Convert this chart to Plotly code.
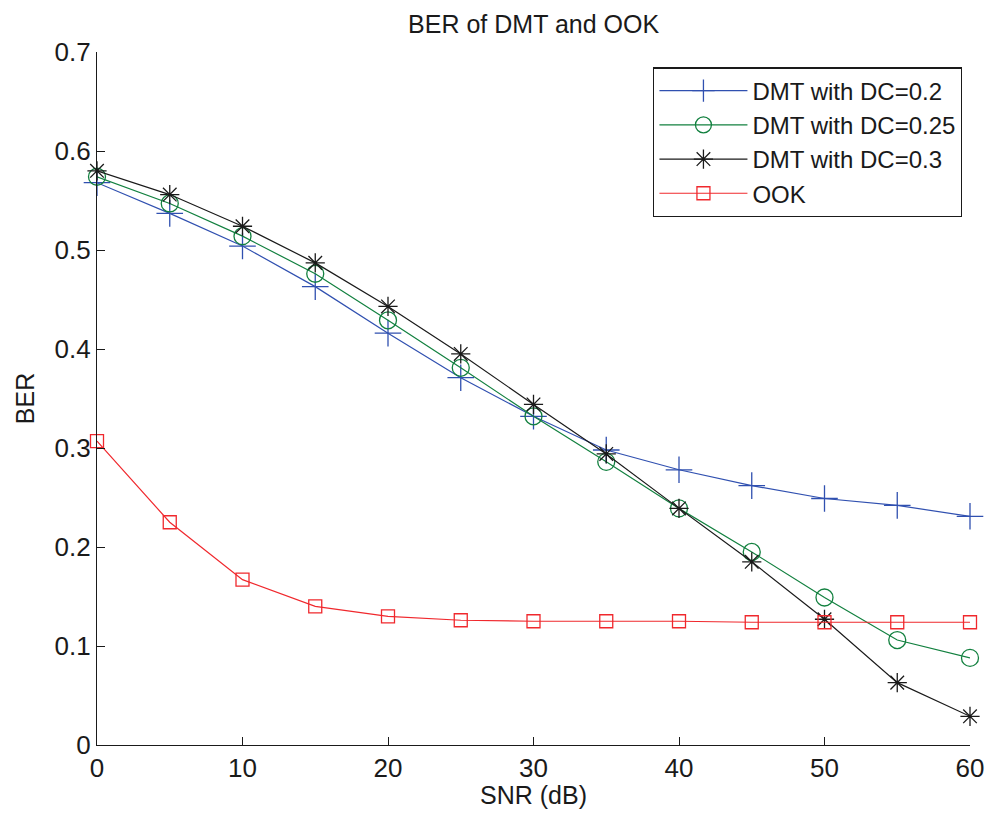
import plotly.graph_objects as go

snr = [0, 5, 10, 15, 20, 25, 30, 35, 40, 45, 50, 55, 60]
dmt_02 = [0.568, 0.537, 0.504, 0.463, 0.416, 0.371, 0.332, 0.298, 0.278, 0.262, 0.249, 0.242, 0.231]
dmt_025 = [0.574, 0.547, 0.514, 0.476, 0.429, 0.381, 0.332, 0.286, 0.239, 0.195, 0.149, 0.106, 0.088]
dmt_03 = [0.580, 0.556, 0.524, 0.487, 0.443, 0.395, 0.344, 0.294, 0.239, 0.185, 0.127, 0.063, 0.029]
ook = [0.307, 0.225, 0.167, 0.140, 0.130, 0.126, 0.125, 0.125, 0.125, 0.124, 0.124, 0.124, 0.124]

series = [
    ("DMT with DC=0.2", dmt_02, "#3050b0", "cross-thin-open", 19),
    ("DMT with DC=0.25", dmt_025, "#12803f", "circle-open", 17),
    ("DMT with DC=0.3", dmt_03, "#1a1a1a", "asterisk-open", 16),
    ("OOK", ook, "#f0282d", "square-open", 13),
]

fig = go.Figure()
for name, vals, color, sym, size in series:
    fig.add_trace(go.Scatter(
        x=snr, y=vals, name=name, mode="lines+markers",
        line=dict(color=color, width=1.2),
        marker=dict(symbol=sym, size=size, color=color, line=dict(color=color, width=1.3)),
        cliponaxis=False,
    ))

font_family = "Liberation Sans, Arial, Helvetica, sans-serif"
fig.update_layout(
    width=977, height=801,
    paper_bgcolor="white", plot_bgcolor="white",
    margin=dict(l=89, r=15, t=44, b=64, autoexpand=False),
    font=dict(family=font_family, color="#1a1a1a"),
    title=dict(text="BER of DMT and OOK", x=0.538, xanchor="center", y=0.980, yanchor="middle",
               font=dict(size=25, color="#1a1a1a")),
    showlegend=True,
    legend=dict(x=0.991, y=0.978, xanchor="right", yanchor="top",
                bordercolor="#1a1a1a", borderwidth=1.3, bgcolor="white",
                font=dict(size=24, color="#1a1a1a"), tracegroupgap=0,
                itemwidth=88),
)
fig.update_xaxes(
    range=[0, 60], tickvals=[0, 10, 20, 30, 40, 50, 60], automargin=False,
    ticklabeloverflow="allow",
    ticks="inside", ticklen=8, tickcolor="#1a1a1a", tickwidth=1.2,
    showline=True, linecolor="#1a1a1a", linewidth=1.3, showgrid=False, zeroline=False,
    tickfont=dict(size=26), title=dict(text="SNR (dB)", font=dict(size=25), standoff=8),
)
fig.update_yaxes(
    range=[0, 0.7], tickvals=[0, 0.1, 0.2, 0.3, 0.4, 0.5, 0.6, 0.7], automargin=False,
    ticktext=["0", "0.1", "0.2", "0.3", "0.4", "0.5", "0.6", "0.7"],
    ticks="inside", ticklen=8, tickcolor="#1a1a1a", tickwidth=1.2,
    showline=True, linecolor="#1a1a1a", linewidth=1.3, showgrid=False, zeroline=False,
    tickfont=dict(size=26), title=dict(text="BER", font=dict(size=25), standoff=12),
)
fig.write_html("out.html")
